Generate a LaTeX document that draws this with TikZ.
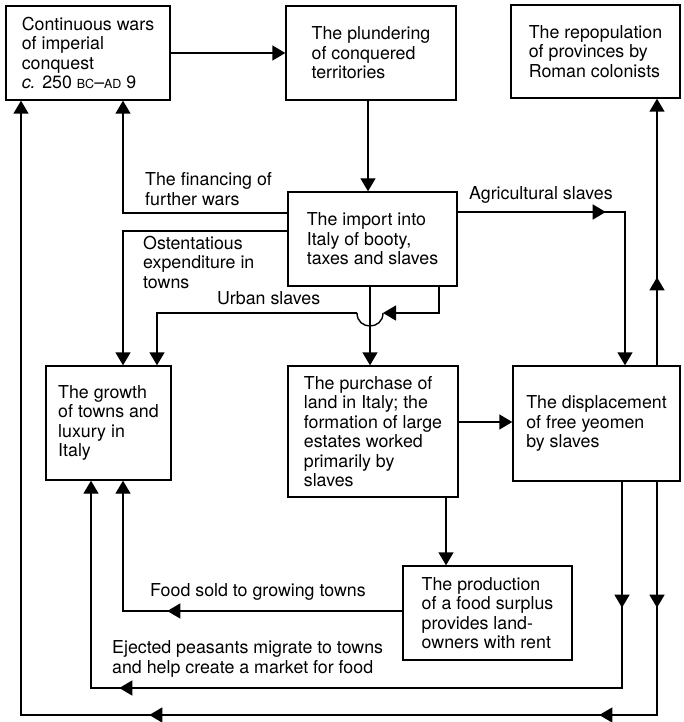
\documentclass[tikz,border=0pt]{standalone}
\usepackage{fontspec}
\setmainfont{TeX Gyre Heros}
\usetikzlibrary{arrows.meta,decorations.markings,calc}
\newcommand\smc[1]{{\fontsize{12.5}{12.5}\selectfont #1}}
\begin{document}
\begin{tikzpicture}[x=1pt,y=-1pt,
  every node/.style={font=\fontsize{17.8}{19.5}\selectfont},
  box/.style={draw, line width=1.4pt, align=left, inner sep=0pt},
  con/.style={line width=1.4pt},
  arr/.style={con, -{Triangle[length=13pt,width=15pt]}},
  mid/.style={postaction={decorate, decoration={markings, mark=at position #1 with {\arrow{Triangle[length=13pt,width=15pt]}}}}},
  lbl/.style={align=left, inner sep=0pt, anchor=base west}]
\useasboundingbox (0,0) rectangle (684,722);

% boxes
\node[box, minimum width=164pt, minimum height=94pt] (A) at (88,53) {Continuous wars\\of imperial\\conquest\\\textit{c.} 250 \smc{BC}–\smc{AD} 9};
\node[box, minimum width=170pt, minimum height=94pt] (B) at (371,53) {The plundering\\of conquered\\territories};
\node[box, minimum width=169pt, minimum height=93pt] (C) at (595.5,51.5) {The repopulation\\of provinces by\\Roman colonists};
\node[box, minimum width=169pt, minimum height=94pt] (D) at (372.5,239) {The import into\\Italy of booty,\\taxes and slaves};
\node[box, minimum width=125pt, minimum height=114pt] (E) at (108.5,423) {The growth\\of towns and\\luxury in\\Italy};
\node[box, minimum width=170pt, minimum height=131pt] (F) at (373,431.5) {The purchase of\\land in Italy; the\\formation of large\\estates worked\\primarily by\\slaves};
\node[box, minimum width=167pt, minimum height=115pt] (G) at (596.5,423.5) {The displacement\\of free yeomen\\by slaves};
\node[box, minimum width=169pt, minimum height=94pt] (H) at (487.5,613) {The production\\of a food surplus\\provides land-\\owners with rent};

% helper coordinates
\coordinate (xBD) at (368,0);
\coordinate (xL2) at (123,0);
\coordinate (yFin) at (0,213);
\coordinate (yOst) at (0,231);
\coordinate (xUR) at (439,0);
\coordinate (hopR) at (383,313);
\coordinate (hopL) at (357,313);
\coordinate (xUS) at (157,0);
\coordinate (xDF) at (370,0);
\coordinate (yAg) at (0,212);
\coordinate (xAg) at (625,0);
\coordinate (xGC) at (657,0);
\coordinate (yFG) at (0,422);
\coordinate (xFH) at (446,0);
\coordinate (yFood) at (0,611);
\coordinate (xEj) at (622,0);
\coordinate (xE1) at (91,0);
\coordinate (yEj) at (0,688);
\coordinate (xOut) at (21,0);
\coordinate (yOut) at (0,715);

% connectors
\draw[arr] (A.east) -- (B.west);
\draw[arr] (xBD |- B.south) -- (xBD |- D.north);
\draw[arr] (D.west |- yFin) -| (xL2 |- A.south);
\draw[arr] (D.west |- yOst) -| (xL2 |- E.north);
\draw[arr] (xUR |- D.south) |- (hopR);
\draw[con] (hopR) .. controls ($(hopR)+(0,17.3)$) and ($(hopL)+(0,17.3)$) .. (hopL);
\draw[arr] (hopL) -| (xUS |- E.north);
\draw[arr] (xDF |- D.south) -- (xDF |- F.north);
\draw[arr, mid=148pt] (D.east |- yAg) -| (xAg |- G.north);
\draw[arr, mid=88pt] (xGC |- G.north) -- (xGC |- C.south);
\draw[arr] (F.east |- yFG) -- (G.west |- yFG);
\draw[arr] (xFH |- F.south) -- (xFH |- H.north);
\draw[arr, mid=235pt] (H.west |- yFood) -| (xL2 |- E.south);
\draw[arr, mid=126pt, mid=709pt] (xEj |- G.south) |- (xE1 |- yEj) -- (xE1 |- E.south);
\draw[arr, mid=126pt, mid=291pt, mid=741pt] (xGC |- G.south) |- (xOut |- yOut) -- (xOut |- A.south);

% labels (base anchor = baseline of last line)
\node[lbl] (lFin) at (145,205) {The financing of\\further wars};
\node[lbl] (lOst) at (143,288) {Ostentatious\\expenditure in\\towns};
\node[lbl] (lUrb) at (217,304) {Urban slaves};
\node[lbl] (lAgr) at (469,199) {Agricultural slaves};
\node[lbl] (lFood) at (150,596) {Food sold to growing towns};
\node[lbl] (lEj) at (112,673) {Ejected peasants migrate to towns\\and help create a market for food};
\end{tikzpicture}
\end{document}
